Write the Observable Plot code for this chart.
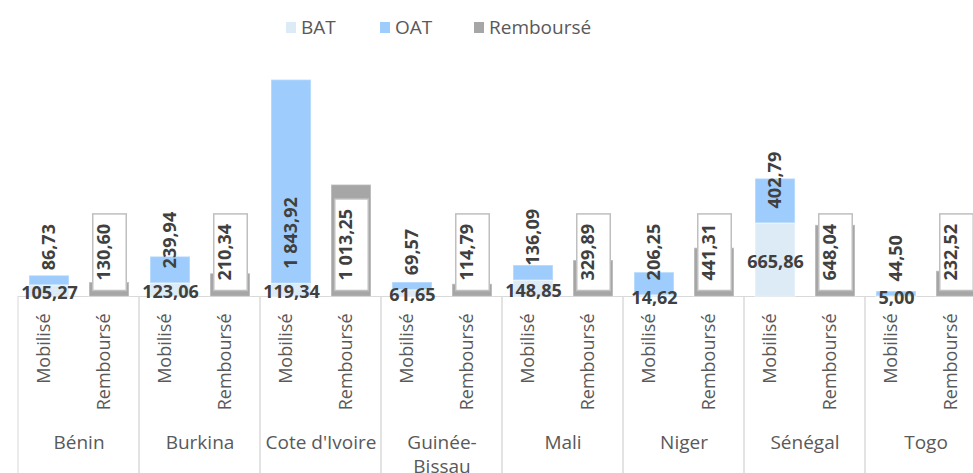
<!DOCTYPE html>
<html>
<head>
<meta charset="utf-8">
<script src="https://cdn.jsdelivr.net/npm/d3@7"></script>
<script src="https://cdn.jsdelivr.net/npm/@observablehq/plot@0.6"></script>
<style>
  html, body { margin: 0; padding: 0; background: white; }
  #wrap { width: 973px; height: 473px; position: relative; overflow: hidden; font-family: "Open Sans", sans-serif; }
  #legend { height: 45px; position: relative; font-size: 19px; color: #595959; }
  .item { position: absolute; top: 15px; height: 24px; display: flex; align-items: center; }
  .sw { width: 10px; height: 11px; margin-right: 5px; }
</style>
</head>
<body>
<div id="wrap">
  <div id="legend"></div>
  <div id="chart"></div>
</div>
<script>
const countries = ["Bénin", "Burkina", "Cote d'Ivoire", "Guinée-Bissau", "Mali", "Niger", "Sénégal", "Togo"];
const bat = [105.27, 123.06, 119.34, 61.65, 148.85, 14.62, 665.86, 5.00];
const oat = [86.73, 239.94, 1843.92, 69.57, 136.09, 206.25, 402.79, 44.50];
const rembourse = [130.60, 210.34, 1013.25, 114.79, 329.89, 441.31, 648.04, 232.52];
const types = ["Mobilisé", "Remboursé"];
const series = ["BAT", "OAT", "Remboursé"];
const colors = ["#DDEBF7", "#9ECDFD", "#A6A6A6"];

const loc = d3.formatLocale({decimal: ",", thousands: " ", grouping: [3], currency: ["", ""]});
const fmt = loc.format(",.2f");

// legend
const legend = d3.select("#legend");
const legendX = [286, 380, 474];
series.forEach((s, i) => {
  const it = legend.append("div").attr("class", "item").style("left", legendX[i] + "px");
  it.append("div").attr("class", "sw").style("background", colors[i]);
  it.append("span").text(s);
});

const rows = countries.flatMap((c, i) => [
  {country: c, type: "Mobilisé", series: "BAT", value: bat[i]},
  {country: c, type: "Mobilisé", series: "OAT", value: oat[i]},
  {country: c, type: "Remboursé", series: "Remboursé", value: rembourse[i]}
]);
const mob = countries.map((c, i) => ({country: c, bat: bat[i], oat: oat[i]}));
const remb = countries.map((c, i) => ({country: c, value: rembourse[i]}));
const ticks = countries.flatMap(c => types.map(t => ({country: c, type: t})));

const chart = Plot.plot({
  width: 973,
  height: 428,
  marginLeft: 18,
  marginRight: -13,
  marginTop: 30.5,
  marginBottom: 176.5,
  fx: {domain: countries, padding: 0, axis: null},
  x: {domain: types, paddingInner: 0.34, paddingOuter: 0.17, axis: null},
  y: {domain: [0, 2000], axis: null},
  color: {domain: series, range: colors},
  style: {fontFamily: "Open Sans", fontSize: "18px", background: "white", overflow: "hidden"},
  marks: [
    Plot.rect(countries, {fx: d => d, y1: 0, y2: 0, insetBottom: -200, fill: "none", stroke: "#D9D9D9", strokeWidth: 1}),
    Plot.barY(rows, {fx: "country", x: "type", y: "value", fill: "series", stroke: "white", strokeOpacity: 0.35, strokeWidth: 1.5}),
    Plot.text(mob, {fx: "country", x: () => "Mobilisé", y: d => d.bat / 2, text: d => fmt(d.bat),
      fontWeight: 700, fill: "#404040", dy: 2}),
    Plot.text(mob, {fx: "country", x: () => "Mobilisé", y: "bat", text: d => fmt(d.oat),
      rotate: -90, textAnchor: "start", dy: -15, fontWeight: 700, fill: "#404040"}),
    Plot.text(remb, {fx: "country", x: () => "Remboursé", frameAnchor: "bottom", text: d => fmt(d.value),
      rotate: -90, textAnchor: "start", dy: -16.5, fontWeight: 700, fill: "#404040"}),
    Plot.text(ticks, {fx: "country", x: "type", text: "type", frameAnchor: "bottom",
      rotate: -90, textAnchor: "end", dy: 16.5, fill: "#595959"}),
    Plot.text(countries, {fx: d => d, text: d => d === "Guinée-Bissau" ? "Guinée-\nBissau" : d,
      frameAnchor: "bottom", lineAnchor: "top", dy: 135, lineHeight: 1.25, fontSize: 19, fill: "#595959"})
  ]
});
document.getElementById("chart").appendChild(chart);

// white label boxes behind the "Remboursé" values
const ns = "http://www.w3.org/2000/svg";
const rembLabels = new Set(remb.map(d => fmt(d.value)));
chart.querySelectorAll("text").forEach(t => {
  if (!rembLabels.has(t.textContent)) return;
  const b = t.getBBox();
  const r = document.createElementNS(ns, "rect");
  r.setAttribute("x", b.x - 10);
  r.setAttribute("y", -16.75);
  r.setAttribute("width", b.width + 20);
  r.setAttribute("height", 33.5);
  r.setAttribute("fill", "white");
  r.setAttribute("stroke", "#BFBFBF");
  r.setAttribute("stroke-width", 1.5);
  const tr = t.getAttribute("transform");
  if (tr) r.setAttribute("transform", tr);
  t.parentNode.insertBefore(r, t);
});
</script>
</body>
</html>
